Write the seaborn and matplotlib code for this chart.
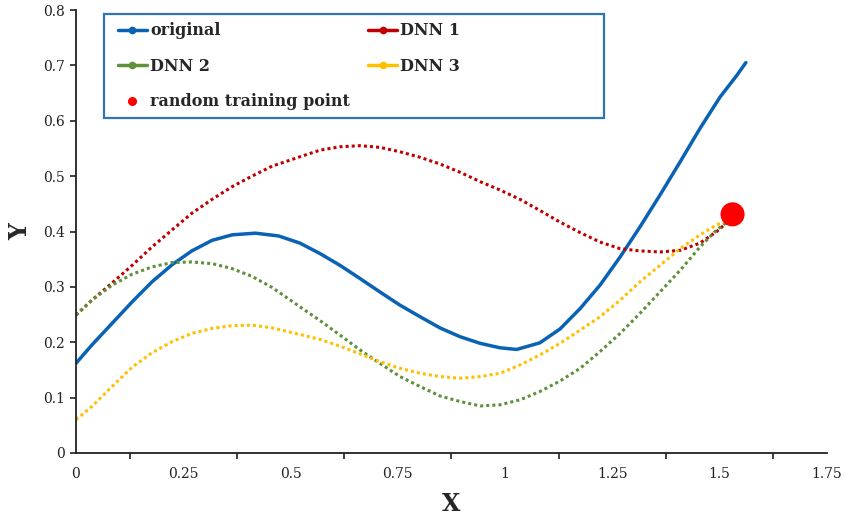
import matplotlib
matplotlib.use("Agg")
import matplotlib.pyplot as plt
from matplotlib.lines import Line2D
from matplotlib.patches import Rectangle
from matplotlib.ticker import MultipleLocator, FuncFormatter
import seaborn as sns
import pandas as pd

# ---- data -------------------------------------------------------------
orig_x = [0.0, 0.037, 0.084, 0.131, 0.177, 0.224, 0.270, 0.317, 0.364, 0.418, 0.472,
          0.522, 0.569, 0.615, 0.662, 0.708, 0.755, 0.802, 0.848, 0.895, 0.942, 0.988,
          1.027, 1.081, 1.128, 1.175, 1.221, 1.268, 1.314, 1.361, 1.408, 1.454,
          1.501, 1.540, 1.561]
orig_y = [0.162, 0.195, 0.234, 0.273, 0.309, 0.340, 0.365, 0.384, 0.394, 0.397, 0.392,
          0.379, 0.360, 0.339, 0.315, 0.291, 0.267, 0.246, 0.226, 0.210, 0.198, 0.190,
          0.187, 0.199, 0.224, 0.261, 0.303, 0.354, 0.408, 0.466, 0.526, 0.586,
          0.643, 0.682, 0.705]

dnn1_x = [0.0, 0.037, 0.084, 0.131, 0.177, 0.224, 0.270, 0.317, 0.364, 0.410, 0.457,
          0.522, 0.569, 0.615, 0.662, 0.708, 0.755, 0.802, 0.848, 0.895, 0.942, 0.988,
          1.035, 1.081, 1.128, 1.175, 1.221, 1.268, 1.314, 1.361, 1.408, 1.454, 1.493, 1.520]
dnn1_y = [0.249, 0.276, 0.307, 0.339, 0.372, 0.403, 0.433, 0.458, 0.481, 0.500, 0.518,
          0.535, 0.547, 0.553, 0.555, 0.552, 0.544, 0.534, 0.522, 0.507, 0.490, 0.475,
          0.458, 0.438, 0.417, 0.398, 0.381, 0.369, 0.365, 0.363, 0.366, 0.379, 0.400, 0.418]

dnn2_x = [0.0, 0.037, 0.084, 0.131, 0.177, 0.224, 0.270, 0.317, 0.364, 0.410, 0.457,
          0.522, 0.569, 0.615, 0.662, 0.708, 0.755, 0.802, 0.848, 0.895, 0.942, 0.988,
          1.035, 1.081, 1.128, 1.175, 1.221, 1.268, 1.314, 1.361, 1.408, 1.454, 1.493, 1.520]
dnn2_y = [0.249, 0.276, 0.303, 0.323, 0.336, 0.344, 0.345, 0.342, 0.333, 0.319, 0.299,
          0.264, 0.239, 0.213, 0.186, 0.162, 0.138, 0.120, 0.103, 0.093, 0.085, 0.087,
          0.096, 0.111, 0.130, 0.153, 0.183, 0.216, 0.252, 0.291, 0.330, 0.372, 0.403, 0.419]

dnn3_x = [0.0, 0.037, 0.084, 0.131, 0.177, 0.224, 0.270, 0.317, 0.364, 0.410, 0.457,
          0.522, 0.569, 0.615, 0.662, 0.708, 0.755, 0.802, 0.848, 0.895, 0.942, 0.988,
          1.035, 1.081, 1.128, 1.175, 1.221, 1.268, 1.314, 1.361, 1.408, 1.454, 1.493, 1.520]
dnn3_y = [0.060, 0.084, 0.120, 0.155, 0.181, 0.201, 0.216, 0.225, 0.230, 0.231, 0.226,
          0.214, 0.205, 0.193, 0.179, 0.165, 0.153, 0.144, 0.138, 0.135, 0.138, 0.144,
          0.159, 0.177, 0.198, 0.222, 0.246, 0.276, 0.309, 0.339, 0.369, 0.394, 0.412, 0.421]

train_x = [1.530]
train_y = [0.431]

colors = {"original": "#0A62B4", "DNN 1": "#C00000", "DNN 2": "#5E913A",
          "DNN 3": "#FFC000", "random training point": "#FF0000"}

# ---- style ------------------------------------------------------------
sns.set_style("white")
plt.rcParams["font.family"] = ["DejaVu Serif"]

fig = plt.figure(figsize=(8.46, 5.22), dpi=100)
ax = fig.add_axes([0.0898, 0.1322, 0.8877, 0.8486])

dot = (0, (1, 1))
series = [(orig_x, orig_y, "original", "-", 2.5),
          (dnn1_x, dnn1_y, "DNN 1", dot, 2.2),
          (dnn2_x, dnn2_y, "DNN 2", dot, 2.2),
          (dnn3_x, dnn3_y, "DNN 3", dot, 2.2)]
for xs, ys, name, ls, lw in series:
    df = pd.DataFrame({"x": xs, "y": ys})
    sns.lineplot(data=df, x="x", y="y", ax=ax, sort=False, estimator=None,
                 linestyle=ls, linewidth=lw, color=colors[name],
                 solid_capstyle="round", solid_joinstyle="round",
                 dash_capstyle="butt", dash_joinstyle="round")

sns.scatterplot(x=train_x, y=train_y, ax=ax, s=300, color=colors["random training point"],
                edgecolor="none", zorder=5)

# ---- axes -------------------------------------------------------------
ax.set_xlim(0, 1.75)
ax.set_ylim(0, 0.8)
ax.xaxis.set_major_locator(MultipleLocator(0.25))
ax.xaxis.set_minor_locator(MultipleLocator(0.125))
ax.yaxis.set_major_locator(MultipleLocator(0.1))
fmt = FuncFormatter(lambda v, p: ("%g" % round(v, 3)))
ax.xaxis.set_major_formatter(fmt)
ax.yaxis.set_major_formatter(fmt)

for side in ("top", "right"):
    ax.spines[side].set_visible(False)
for side in ("left", "bottom"):
    ax.spines[side].set_color("#222222")
    ax.spines[side].set_linewidth(1.3)

ax.tick_params(axis="both", which="both", direction="out", length=4, width=1.2,
               color="#222222", labelsize=10, labelcolor="#222222")
ax.tick_params(axis="x", which="minor", bottom=True)
ax.tick_params(axis="x", pad=6)
ax.tick_params(axis="y", left=True, pad=4)

ax.set_xlabel("X", fontsize=17, fontweight="bold", labelpad=8)
ax.set_ylabel("Y", fontsize=17, fontweight="bold", labelpad=8, rotation=90)

# ---- legend -----------------------------------------------------------
frame = Rectangle((0.0373, 0.757), 0.666, 0.234, transform=ax.transAxes,
                  facecolor="white", edgecolor="#2E75B6", linewidth=1.6, zorder=6)
ax.add_patch(frame)

def line_handle(name):
    return Line2D([0], [0], color=colors[name], lw=2.5, marker="o", markersize=4.5)

point_handle = Line2D([0], [0], color=colors["random training point"], lw=0,
                      marker="o", markersize=5.5)
handles = [line_handle("original"), line_handle("DNN 2"), point_handle,
           line_handle("DNN 1"), line_handle("DNN 3")]
names = ["original", "DNN 2", "random training point", "DNN 1", "DNN 3"]
leg = ax.legend(handles, names, ncol=2, loc="upper left",
                bbox_to_anchor=(0.0559, 0.972),
                prop={"family": "DejaVu Serif", "weight": "bold", "size": 11.5},
                frameon=False, handlelength=1.8, handletextpad=0.2,
                labelspacing=1.15, columnspacing=1.15, borderpad=0, borderaxespad=0)
leg.set_zorder(7)

fig.savefig("out.png", dpi=100)
